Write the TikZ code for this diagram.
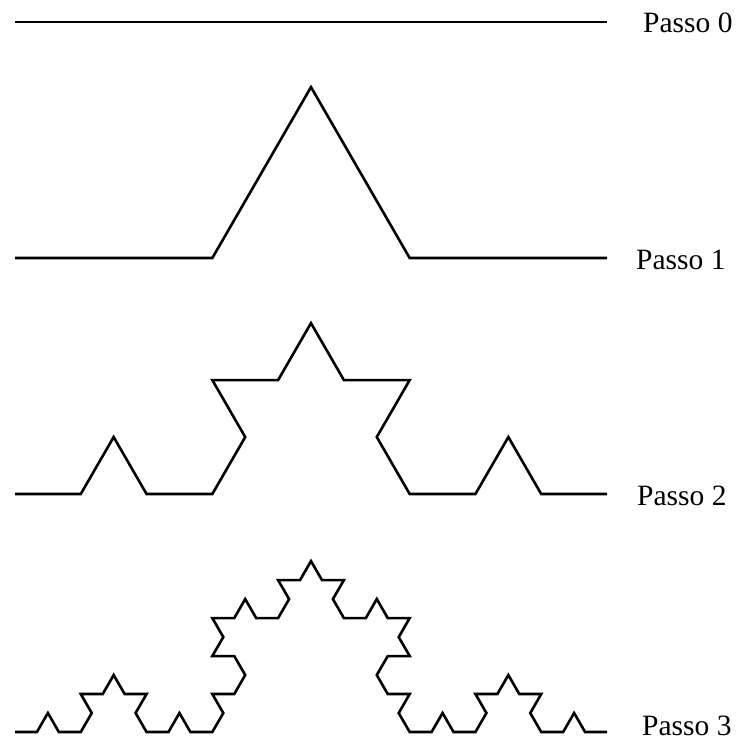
\documentclass[tikz,border=0pt]{standalone}
\usepackage{fontspec}
\setmainfont{Liberation Serif}
\usetikzlibrary{lindenmayersystems}
\begin{document}
\begin{tikzpicture}[x=1pt,y=-1pt,
  curve/.style={line width=2.6pt,black},
  lbl/.style={anchor=base west,inner sep=0pt,font=\fontsize{29.5}{32}\selectfont}]
\useasboundingbox (0,0) rectangle (736,742);
% Passo 0
\coordinate (a0) at (15,22);
\coordinate (b0) at (607,22);
\draw[curve] (a0) -- (b0);
\node[lbl] (p0) at (643,32) {Passo 0};
% Passo 1..3
\foreach \o/\y/\s in {1/258/197.333, 2/494/65.778, 3/732/21.926}{
  \begin{scope}[shift={(15,\y)}]
    \draw[curve,l-system={rule set={F -> F+F--F+F}, axiom=F, order=\o, angle=60, step=\s pt}] (0,0) l-system;
  \end{scope}
}
\node[lbl] (p1) at (636,269) {Passo 1};
\node[lbl] (p2) at (637,505) {Passo 2};
\node[lbl] (p3) at (642,735) {Passo 3};
\end{tikzpicture}
\end{document}
